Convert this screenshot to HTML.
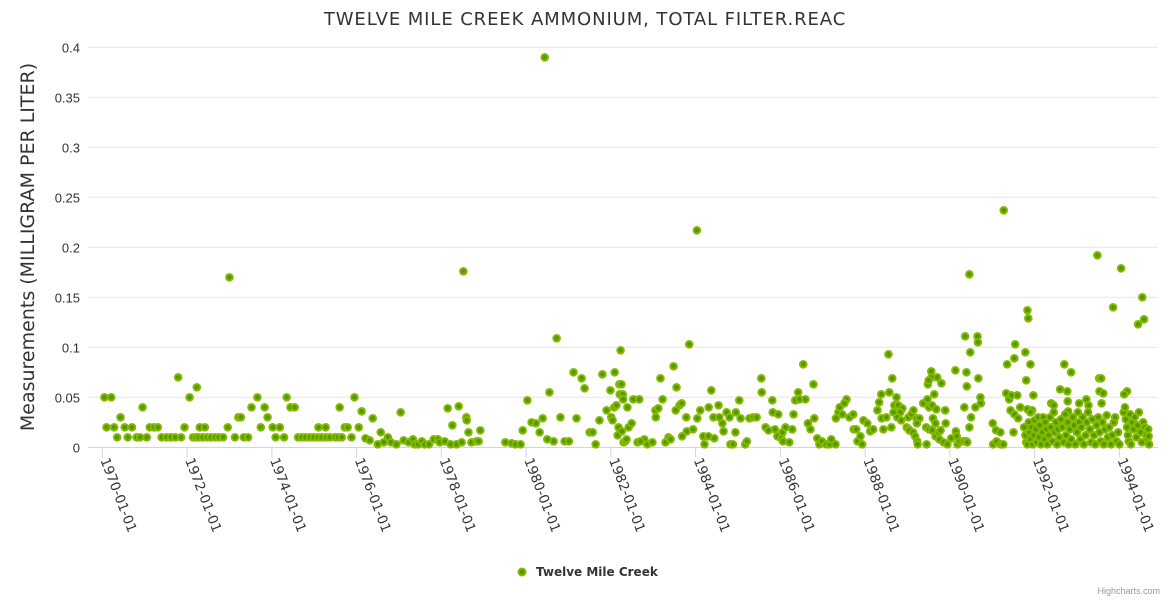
<!DOCTYPE html>
<html><head><meta charset="utf-8">
<style>
html,body{margin:0;padding:0;background:#fff;}
svg{display:block;font-family:"Liberation Sans","DejaVu Sans",sans-serif;}
.dv{font-family:"DejaVu Sans","Liberation Sans",sans-serif;}
</style></head>
<body>
<svg id="chart" width="1170" height="600" viewBox="0 0 1170 600" xmlns="http://www.w3.org/2000/svg">
  <rect x="0" y="0" width="1170" height="600" fill="#ffffff"/>
  <text class="dv" x="585" y="25" text-anchor="middle" font-size="18" letter-spacing="0.9" fill="#333333">TWELVE MILE CREEK AMMONIUM, TOTAL FILTER.REAC</text>
  <text class="dv" transform="translate(34,247) rotate(-90)" text-anchor="middle" font-size="19" fill="#333333">Measurements (MILLIGRAM PER LITER)</text>
  <g id="grid"></g>
  <g id="yticks"></g>
  <g id="xaxis"></g>
  <g id="points"></g>
  <g>
    <circle cx="522" cy="572" r="3.5" fill="#4f9a00" stroke="#86b800" stroke-width="2"/>
    <text class="dv" x="536" y="576" font-size="12" font-weight="bold" fill="#333333">Twelve Mile Creek</text>
  </g>
  <text x="1160" y="594" text-anchor="end" font-size="9" fill="#999999">Highcharts.com</text>
</svg>
<script>
// Years since 1970-01-01 (decimal)
const yearsA = [0.05,0.21,0.10,0.28,0.35,0.43,0.53,0.60,0.70,0.81,0.89,0.95,1.05,1.12,1.22,1.31,1.40,1.52,1.62,1.72,1.86,1.79,1.94,2.06,2.23,2.14,2.21,2.28,2.37,2.47,2.56,2.66,2.75,2.85,2.30,2.42,2.96,3.00,3.13,3.21,3.27,3.34,3.44,3.52,3.66,3.74,3.83,3.90,4.02,4.19,4.09,4.29,4.35,4.44,4.54,4.62,4.71,4.80,4.90,4.99,5.09,5.18,5.28,5.37,5.49,5.56,5.65,5.10,5.27,5.60,5.72];
const valuesA = [0.05,0.05,0.02,0.02,0.01,0.03,0.02,0.01,0.02,0.01,0.01,0.04,0.01,0.02,0.02,0.02,0.01,0.01,0.01,0.01,0.01,0.07,0.02,0.05,0.06,0.01,0.01,0.01,0.01,0.01,0.01,0.01,0.01,0.01,0.02,0.02,0.02,0.17,0.01,0.03,0.03,0.01,0.01,0.04,0.05,0.02,0.04,0.03,0.02,0.02,0.01,0.01,0.05,0.04,0.04,0.01,0.01,0.01,0.01,0.01,0.01,0.01,0.01,0.01,0.01,0.01,0.01,0.02,0.02,0.04,0.02];
const yearsB = [5.88,5.79,6.05,5.95,6.12,6.21,6.31,6.38,6.50,6.57,6.64,6.74,6.81,6.94,7.04,7.11,7.23,7.33,7.37,7.45,7.54,7.61,7.71,7.82,7.92,7.96,8.08,8.15,8.22,8.36,8.48,8.26,8.41,8.52,8.59,8.60,8.64,8.71,8.83,8.88,8.92,9.51,9.66,9.75,9.87,9.92,10.03,10.13,10.23,10.32,10.39,10.44,10.50,10.65,10.55,10.72,10.81,10.91,11.01,11.12,11.19,11.31,11.38,11.50];
const valuesB = [0.01,0.02,0.02,0.05,0.036,0.009,0.007,0.029,0.003,0.015,0.005,0.01,0.005,0.003,0.035,0.007,0.005,0.008,0.003,0.003,0.006,0.003,0.003,0.008,0.008,0.005,0.006,0.039,0.003,0.003,0.005,0.022,0.041,0.176,0.03,0.027,0.015,0.005,0.006,0.006,0.017,0.005,0.004,0.003,0.003,0.017,0.047,0.025,0.024,0.015,0.029,0.39,0.008,0.006,0.055,0.109,0.03,0.006,0.006,0.075,0.029,0.069,0.059,0.015];
const yearsC = [11.57,11.64,11.73,11.80,11.90,11.99,12.01,12.04,12.09,12.08,12.13,12.16,12.18,12.20,12.25,12.23,12.21,12.28,12.29,12.26,12.30,12.34,12.37,12.39,12.42,12.49,12.53,12.67,12.63,12.79,12.86,12.98,12.70,13.05,13.06,13.12,13.17,13.22,13.29,13.36,13.41,13.48,13.53,13.55,13.62,13.67,13.68,13.78,13.79,13.94,13.85,14.03,14.04,14.11,14.18,14.21,14.30,14.44,14.31,14.37,14.42,14.56,14.54,14.63,14.66,14.73,14.80,14.82,14.88,14.94,14.95,15.03,15.06,15.17,15.21,15.27,15.36,15.44,15.55,15.56,15.65,15.72,15.81,15.82,15.95,15.87,15.93,16.02,16.05,16.12,16.06,16.21,16.28,16.31,16.35,16.42,16.45,16.59,16.54,16.65,16.71,16.78,16.80,16.87,16.92,16.98,17.08,17.16,17.20,17.30,17.31,17.37,17.40];
const valuesC = [0.015,0.003,0.027,0.073,0.037,0.057,0.03,0.027,0.075,0.04,0.042,0.012,0.02,0.063,0.063,0.097,0.053,0.053,0.048,0.016,0.005,0.006,0.008,0.04,0.02,0.024,0.048,0.048,0.005,0.008,0.003,0.005,0.006,0.037,0.03,0.039,0.069,0.048,0.005,0.01,0.008,0.081,0.037,0.06,0.042,0.044,0.011,0.03,0.016,0.018,0.103,0.217,0.029,0.037,0.011,0.003,0.011,0.009,0.04,0.057,0.03,0.03,0.042,0.024,0.016,0.035,0.03,0.003,0.003,0.015,0.035,0.047,0.029,0.003,0.006,0.029,0.03,0.03,0.069,0.055,0.02,0.017,0.047,0.035,0.033,0.018,0.011,0.009,0.015,0.02,0.006,0.005,0.018,0.033,0.047,0.055,0.048,0.048,0.083,0.024,0.018,0.063,0.029,0.009,0.003,0.006,0.003,0.003,0.008,0.003,0.029,0.035,0.04];
const yearsD = [17.56,17.51,17.46,17.63,17.72,17.73,17.79,17.82,17.89,17.93,17.96,18.05,18.12,18.19,18.29,18.33,18.38,18.57,18.39,18.43,18.50,18.62,18.55,18.64,18.69,18.74,18.78,18.88,18.83,18.67,18.76,18.85,18.98,19.03,19.02,19.09,19.14,19.21,19.28,19.04,19.13,19.18,19.23,19.24,19.45,19.22,19.37,19.47,19.51,19.56,19.57,19.48,19.50,19.70,19.80,19.63,19.58,19.68,19.60,19.66,19.89,19.90,19.44,19.51,19.58,19.66,19.73,19.78,19.75,19.85,19.94,20.03,20.13,20.14,20.16,20.18,20.23,20.32,20.39,20.41,20.34,20.46,20.50,20.60,20.72,20.73,20.36,20.39,20.40,20.48,20.65,20.66,20.67,20.46,21.01,21.09,21.02,21.10,21.19,21.20,21.26,21.27];
const valuesD = [0.048,0.044,0.033,0.03,0.033,0.018,0.018,0.006,0.011,0.003,0.027,0.024,0.016,0.018,0.037,0.045,0.053,0.055,0.029,0.018,0.03,0.02,0.093,0.069,0.042,0.05,0.042,0.039,0.035,0.035,0.03,0.027,0.02,0.018,0.03,0.033,0.037,0.029,0.029,0.017,0.015,0.011,0.006,0.003,0.003,0.024,0.044,0.048,0.04,0.076,0.07,0.063,0.067,0.07,0.064,0.053,0.042,0.038,0.029,0.024,0.037,0.024,0.02,0.018,0.017,0.011,0.015,0.017,0.008,0.005,0.003,0.009,0.077,0.016,0.011,0.003,0.006,0.006,0.006,0.005,0.04,0.02,0.03,0.04,0.05,0.044,0.111,0.075,0.061,0.095,0.111,0.105,0.069,0.173,0.024,0.017,0.003,0.006,0.015,0.003,0.003,0.237];
const yearsE = [21.35,21.52,21.54,21.78,21.90,21.80,21.83,21.85,24.04,23.85,24.54,24.58,24.44,22.70,22.86,23.52,23.57,22.60,22.77,23.53,23.62,24.18,24.11,21.33,21.40,21.45,21.59,21.97,21.66,21.43,21.52,21.61,21.83,21.94,21.90,21.50,22.39,22.45,22.78,22.79,23.05,23.22,23.27,23.58,23.48,
21.75,21.78,21.80,21.83,21.86,21.88,21.90,21.93,21.95,21.98,22.00,22.03,22.05,22.08,22.10,22.12,22.15,22.18,22.20,22.23,22.25,22.28,22.30,22.33,22.36,22.38,22.42,22.45,22.47,22.50,22.53,22.55,22.58,22.62,22.65,22.68,22.72,22.74,22.78,22.80,22.83,22.86,22.90,22.93,22.96,23.00,23.02,23.05,23.08,23.10,23.13,23.16,23.20,23.23,23.26,23.30,23.33,23.36,23.40,23.43,23.46,23.50,23.53,23.56,23.60,23.63,23.66,23.70,23.73,23.76,23.80,23.83,23.87,23.90,23.93,23.97,24.00,24.10,24.13,24.15,24.18,24.20,24.22,24.25,24.27,24.30,24.33,24.36,24.40,24.43,24.46,24.50,24.53,24.56,24.60,24.63,24.66,24.68,24.70,24.69];
const valuesE = [0.083,0.089,0.103,0.095,0.083,0.067,0.137,0.129,0.179,0.14,0.15,0.128,0.123,0.083,0.075,0.069,0.069,0.058,0.056,0.056,0.054,0.056,0.053,0.054,0.048,0.052,0.052,0.052,0.04,0.037,0.033,0.029,0.038,0.037,0.035,0.015,0.044,0.042,0.046,0.036,0.044,0.048,0.042,0.044,0.192,
0.02,0.012,0.005,0.003,0.025,0.015,0.008,0.02,0.003,0.012,0.027,0.018,0.005,0.03,0.01,0.022,0.003,0.015,0.03,0.008,0.025,0.018,0.003,0.012,0.03,0.02,0.006,0.035,0.015,0.025,0.003,0.018,0.01,0.028,0.02,0.005,0.033,0.012,0.025,0.003,0.018,0.008,0.03,0.022,0.003,0.015,0.035,0.025,0.008,0.02,0.03,0.003,0.012,0.025,0.035,0.018,0.005,0.028,0.012,0.003,0.022,0.03,0.015,0.006,0.025,0.003,0.018,0.032,0.01,0.02,0.003,0.012,0.025,0.03,0.006,0.015,0.003,0.035,0.04,0.028,0.02,0.012,0.006,0.033,0.003,0.025,0.018,0.03,0.01,0.022,0.035,0.015,0.005,0.025,0.02,0.012,0.008,0.018,0.003,0.011];
const yTicks = [0,0.05,0.1,0.15,0.2,0.25,0.3,0.35,0.4];
const yTickLabels = ["0","0.05","0.1","0.15","0.2","0.25","0.3","0.35","0.4"];
const xTickYears = [0,2,4,6,8,10,12,14,16,18,20,22,24];
const xTickLabels = ["1970-01-01","1972-01-01","1974-01-01","1976-01-01","1978-01-01","1980-01-01","1982-01-01","1984-01-01","1986-01-01","1988-01-01","1990-01-01","1992-01-01","1994-01-01"];

const NS = "http://www.w3.org/2000/svg";
const plotL = 88, plotR = 1158;
function xScale(yr){ return 102.3 + yr * 42.38; }
function yScale(v){ return 447.3 - v * 1000; }
function mk(tag, attrs, parent){
  const e = document.createElementNS(NS, tag);
  for (const k in attrs) e.setAttribute(k, attrs[k]);
  parent.appendChild(e);
  return e;
}
const grid = document.getElementById('grid');
const yt = document.getElementById('yticks');
yTicks.forEach((t, i) => {
  if (i > 0) {
    const l = mk('line', {x1: plotL, x2: plotR, y1: yScale(t), y2: yScale(t), stroke: '#e6e6e6', 'stroke-width': 1}, grid);
    
    
  }
  const tx = mk('text', {x: 80, y: yScale(t) + 5, 'text-anchor': 'end', 'font-size': 13, fill: '#333333'}, yt);
  tx.textContent = yTickLabels[i];
  
  
});
const xa = document.getElementById('xaxis');
const axl = mk('line', {x1: plotL, x2: plotR, y1: 447.5, y2: 447.5, stroke: '#ccd6eb', 'stroke-width': 1}, xa);


xTickYears.forEach((yr, i) => {
  const x = xScale(yr);
  const tk = mk('line', {x1: x, x2: x, y1: 447.5, y2: 457.5, stroke: '#ccd6eb', 'stroke-width': 1}, xa);
  
  
  const tx = mk('text', {transform: 'translate(' + (x - 2) + ',460) rotate(69)', 'font-size': 13.5, fill: '#333333', 'class': 'dv'}, xa);
  tx.textContent = xTickLabels[i];
  
  
});
const pts = document.getElementById('points');
[[yearsA, valuesA],[yearsB, valuesB],[yearsC, valuesC],[yearsD, valuesD],[yearsE, valuesE]].forEach(([ys, vs]) => {
  ys.forEach((yr, i) => {
    const c = mk('circle', {cx: xScale(yr), cy: yScale(vs[i]), r: 3.3, fill: '#4f9a00', stroke: '#86b800', 'stroke-width': 2}, pts);
    
    
  });
});
</script>
</body></html>
